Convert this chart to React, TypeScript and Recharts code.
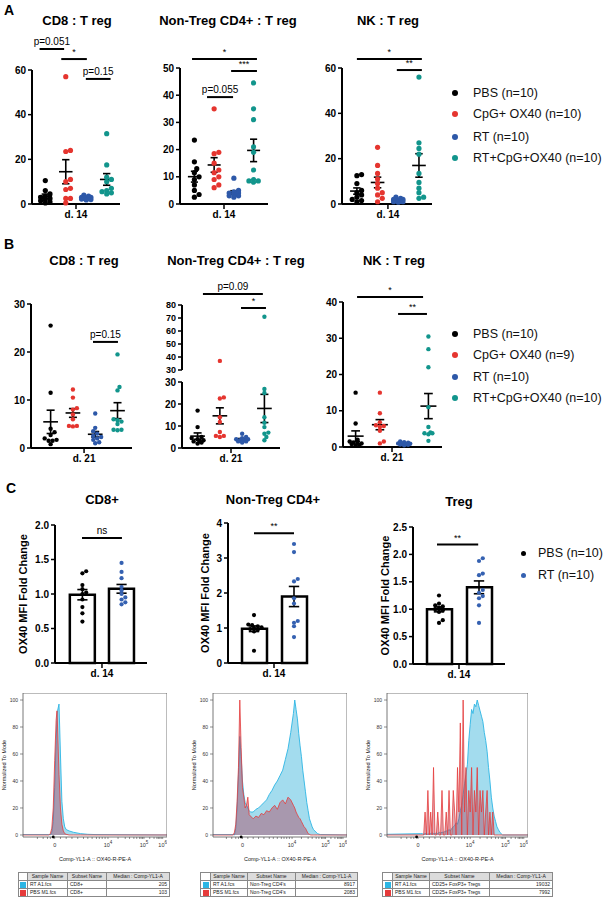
import React from 'react';
import {
  ScatterChart,
  ComposedChart,
  Scatter,
  Bar,
  Area,
  XAxis,
  YAxis,
  ReferenceLine,
  ReferenceArea,
  ReferenceDot,
} from 'recharts';

const FONT = '"Liberation Sans", Arial, Helvetica, sans-serif';

const groupColors = ['#000000', '#e5352f', '#2d58a8', '#12958c'];
const pairColors = ['#000000', '#3561b1'];
const legendA = ['PBS (n=10)', 'CpG+ OX40 (n=10)', 'RT (n=10)', 'RT+CpG+OX40 (n=10)'];
const legendB = ['PBS (n=10)', 'CpG+ OX40 (n=9)', 'RT (n=10)', 'RT+CpG+OX40 (n=10)'];
const legendC = ['PBS (n=10)', 'RT (n=10)'];

// A: ratios at d. 14  (PBS, CpG+OX40, RT, RT+CpG+OX40)
const aCd8 = [
  [10.5, 6, 4.5, 3.5, 3, 2.5, 2, 1.5, 1, 0.5],
  [57, 24, 23.5, 11, 10, 7, 6.5, 2.5, 2.5, 0.5],
  [4, 3.5, 3, 3, 2.8, 2.5, 2.5, 2.2, 2, 1.8],
  [31.5, 17.5, 12, 11, 10, 7, 6, 5.5, 5, 4.5],
];
const aCd4 = [
  [23.5, 15.5, 13, 11.5, 10, 9, 7, 5, 3.5, 2.5],
  [35, 19, 18.5, 15, 12.5, 11.5, 10, 9, 7, 6],
  [9.5, 5, 4.5, 4, 4, 3.5, 3.5, 3, 3, 2.5],
  [44.5, 35, 31, 21, 19, 12.5, 9, 8.5, 8.5, 8],
];
const aNk = [
  [13, 12.5, 9, 6, 5, 4, 3, 2, 1.5, 1],
  [25, 17, 13.5, 11, 9, 7, 5, 4, 2.5, 1],
  [3, 2.5, 2, 2, 1.5, 1.5, 1.2, 1, 1, 0.8],
  [56, 27, 24.5, 22, 13.5, 9.5, 7, 5, 3, 2.5],
];

// B: ratios at d. 21
const bCd8 = [
  [25.5, 11.5, 4, 3.3, 2.7, 2, 1.7, 1.5, 1.5, 0.8],
  [12.2, 10.5, 8.3, 8, 7, 6, 4.6, 4.6, 4.5],
  [7.2, 4.2, 3.5, 3, 2.5, 2.3, 2, 1.7, 1.2, 1],
  [19.5, 12.7, 12, 6, 5.8, 5.5, 5, 3.8, 3.8, 3.7],
];
const bCd4 = [
  [17, 9.5, 5, 4.5, 4, 3.5, 3, 3, 2.5, 2],
  [37, 23, 22.5, 14, 11.8, 7.3, 5.5, 5.5, 5],
  [6.5, 5, 4.5, 4, 4, 3.5, 3.5, 3, 3, 2.5],
  [71, 26.8, 25, 14, 11.5, 9.5, 7, 6.5, 5, 3.5],
];
const bNk = [
  [15, 6.5, 2, 1.5, 1.2, 1, 1, 0.8, 0.6, 0.4],
  [15, 9.3, 6.8, 6, 5.8, 5.5, 4.5, 1.5, 1],
  [1.5, 1.3, 1.2, 1, 1, 0.9, 0.8, 0.7, 0.6, 0.5],
  [30.5, 27, 22, 11, 5.5, 4, 3.8, 3.8, 3.5, 1.7],
];

// C: OX40 MFI fold change (PBS, RT)
const cCd8 = [
  [1.33, 1.3, 1.13, 1.07, 1.02, 1.0, 0.92, 0.81, 0.72, 0.6],
  [1.45, 1.32, 1.23, 1.1, 1.05, 1.0, 0.95, 0.92, 0.88, 0.85],
];
const cCd4 = [
  [1.37, 1.1, 1.08, 1.05, 1.02, 1.0, 0.97, 0.95, 0.9, 0.35],
  [3.4, 3.17, 2.4, 2.33, 1.85, 1.7, 1.2, 1.15, 1.05, 0.74],
];
const cTreg = [
  [1.25, 1.1, 1.07, 1.05, 1.02, 1.0, 0.98, 0.95, 0.8, 0.75],
  [1.93, 1.88, 1.65, 1.62, 1.35, 1.3, 1.24, 1.2, 1.07, 0.75],
];

// histograms: x on a 0-100 display scale, y = % of mode
const h1X = [0, 18, 19, 20, 21, 22, 23, 23.6, 24, 25, 26, 27, 28, 29, 30, 32, 35, 40, 45, 50, 100];
const h1Pbs = [0, 0, 1, 5, 20, 55, 85, 92, 80, 45, 20, 8, 3, 1, 0.5, 0, 0, 0, 0, 0, 0];
const h1Rt = [0.3, 0.3, 0, 2, 10, 35, 70, 85, 92, 97, 60, 25, 12, 6, 4, 3, 2, 1, 0.5, 0.3, 0];

const h2X = [0, 15, 16, 17, 18, 19, 20, 21, 22, 23, 24, 25, 26, 27, 28, 30, 32, 34, 36, 38, 40, 42, 44, 46, 48, 50,
  52, 54, 56, 58, 60, 61, 62, 63, 64, 65, 66, 67, 68, 69, 70, 71, 72, 73, 74, 75, 76, 78, 80, 100];
const h2Pbs = [0, 0, 2, 8, 25, 50, 100, 65, 35, 28, 20, 22, 28, 15, 14, 12, 14, 13, 16, 15, 18, 17, 20, 22, 19, 24,
  26, 23, 28, 26, 22, 20, 17, 15, 13, 12, 10, 8, 6, 5, 3, 1, 0.5, 0, 0, 0, 0, 0, 0, 0];
const h2Rt = [0.3, 0.3, 0, 5, 20, 45, 73, 58, 40, 30, 24, 22, 20, 18, 17, 17, 19, 20, 22, 24, 26, 30, 33, 37, 40, 44,
  48, 56, 64, 76, 90, 100, 93, 86, 75, 66, 58, 48, 40, 32, 24, 18, 12, 9, 6, 4, 3, 1, 0.3, 0];

const h3X = [0, 24, 25, 26, 27, 28, 29, 30, 31, 32, 33, 34, 35, 36, 37, 38, 39, 40, 41, 42, 43, 44, 45, 46, 47, 48,
  49, 50, 51, 52, 53, 54, 55, 56, 57, 58, 59, 60, 61, 62, 63, 64, 65, 66, 67, 68, 69, 70, 71, 72, 73, 74, 75, 76,
  77, 78, 79, 80, 81, 82, 100];
const h3Pbs = [0, 0, 0, 0, 17, 0, 33, 0, 17, 0, 50, 0, 0, 17, 0, 0, 33, 0, 0, 17, 0, 33, 0, 0, 33, 17,
  0, 50, 17, 83, 0, 100, 17, 50, 0, 33, 17, 50, 0, 33, 17, 50, 0, 33, 17, 33, 0, 17, 33, 0, 17, 0, 17, 0,
  0, 0, 0, 0, 0, 0, 0];
const h3Rt = [0.5, 1, 1, 0.5, 1, 1, 0.5, 1, 1, 1.5, 1, 1, 1.5, 1, 2, 1.5, 2, 2, 2.5, 3, 3, 4, 3, 5, 6, 7,
  9, 8, 12, 18, 22, 30, 38, 45, 52, 70, 82, 93, 90, 97, 95, 100, 96, 92, 88, 84, 76, 70, 62, 50, 40, 28, 20, 14,
  10, 6, 4, 2, 1, 0, 0];

const histMajor = [22, 59, 84, 97];
const histMajorExp = ['', '4', '5', '6'];
const histMinor = [10, 14, 17, 19, 26, 30, 34, 38, 42, 45, 48, 51, 53, 55, 57, 66, 71, 74, 77, 79, 81, 82, 83,
  88, 91, 93, 94, 95, 96];

const sampleNames = ['RT A1.fcs', 'PBS M1.fcs'];
const subsetNames = ['CD8+', "Non-Treg CD4's", 'CD25+ FoxP3+ Tregs'];
const medians = [[205, 103], [8917, 2083], [19032, 7992]];

const mean = (v: number[]) => v.reduce((a, b) => a + b, 0) / v.length;
const sem = (v: number[]) => {
  const m = mean(v);
  const sd = Math.sqrt(v.reduce((a, b) => a + (b - m) ** 2, 0) / (v.length - 1));
  return sd / Math.sqrt(v.length);
};

// beeswarm-ish horizontal spread, returns offsets in x units
function swarm(vals: number[], pxY: number, pxX: number, r: number, maxPx: number) {
  const order = vals.map((_, i) => i).sort((a, b) => vals[a] - vals[b]);
  const placed: { x: number; y: number }[] = [];
  const out = vals.map(() => 0);
  const minD = r * 1.6;
  const step = r * 0.9;
  for (const i of order) {
    const y = vals[i] * pxY;
    let best = 0;
    let bestD = -1;
    for (let k = 0; k < 40; k++) {
      const off = k === 0 ? 0 : (k % 2 ? 1 : -1) * Math.ceil(k / 2) * step;
      if (Math.abs(off) > maxPx) break;
      const d = placed.reduce((m, p) => Math.min(m, Math.hypot(p.x - off, p.y - y)), Infinity);
      if (d >= minD) {
        best = off;
        break;
      }
      if (d > bestD) {
        bestD = d;
        best = off;
      }
    }
    placed.push({ x: best, y });
    out[i] = best / pxX;
  }
  return out;
}

type Sig = { x1: number; x2: number; y: number; text: string };

const axisLine = { stroke: '#000', strokeWidth: 2 };
const tickLine = { stroke: '#000', strokeWidth: 1.5 };
const tickFont = { fill: '#000', fontSize: 10, fontWeight: 700, fontFamily: FONT };
const YW = 30;
const TOPM = 50;
const XH = 22;
const RM = 4;

const sigLines = (sigs: Sig[]) =>
  sigs.map((s, i) => (
    <ReferenceLine
      key={'sig' + i}
      segment={[{ x: s.x1, y: s.y }, { x: s.x2, y: s.y }]}
      stroke="#000"
      strokeWidth={2}
      ifOverflow="visible"
      label={{
        value: s.text,
        position: 'top',
        offset: 4,
        fill: '#000',
        fontSize: s.text.startsWith('p') || s.text === 'ns' ? 10 : 9,
        fontFamily: FONT,
      }}
    />
  ));

function DotPanel({
  groups, colors = groupColors, axisLeft, axisRight, yTop, yBot, xDomain, yDomain, yTicks,
  tickText = 'd. 14', hideX = false, sigs = [], r = 2.6, stats = true, keep, swarmPx, tickFs = 10,
}: any) {
  const pxY = (yBot - yTop) / (yDomain[1] - yDomain[0]);
  const pxX = (axisRight - axisLeft) / (xDomain[1] - xDomain[0]);
  const bottomPad = hideX ? 7 : 0;
  const w = YW + axisRight - axisLeft + RM;
  const h = TOPM + yBot - yTop + (hideX ? 0 : XH) + bottomPad;
  return (
    <div style={{ position: 'absolute', left: axisLeft - YW, top: yTop - TOPM }}>
      <ScatterChart width={w} height={h} margin={{ top: TOPM, right: RM, bottom: bottomPad, left: 0 }}>
        <XAxis type="number" dataKey="x" domain={xDomain} ticks={[2.5]} tickFormatter={() => tickText}
          hide={hideX} height={XH} axisLine={axisLine} tickLine={tickLine} tickSize={5} tick={tickFont} interval={0} />
        <YAxis type="number" dataKey="y" domain={yDomain} ticks={yTicks} interval={0} width={YW}
          axisLine={axisLine} tickLine={tickLine} tickSize={4} tick={{ ...tickFont, fontSize: tickFs }} />
        {groups.map((vals: number[], gi: number) => {
          const jit = swarm(vals, swarmPx ?? pxY, pxX, r, 7);
          const pts = vals
            .map((v, i) => ({ x: gi + 1 + jit[i], y: v }))
            .filter((p) => !keep || keep(p.y));
          return (
            <Scatter key={gi} data={pts} isAnimationActive={false}
              shape={(s: any) => <circle cx={s.cx} cy={s.cy} r={r} fill={colors[gi]} />} />
          );
        })}
        {stats &&
          groups.map((vals: number[], gi: number) => {
            const m = mean(vals);
            const s = sem(vals);
            const g = gi + 1;
            const seg = (x1: number, y1: number, x2: number, y2: number, k: string) => (
              <ReferenceLine key={k + gi} segment={[{ x: x1, y: y1 }, { x: x2, y: y2 }]}
                stroke="#000" strokeWidth={1.6} ifOverflow="visible" />
            );
            return [
              seg(g - 0.33, m, g + 0.33, m, 'm'),
              seg(g, m - s, g, m + s, 'v'),
              seg(g - 0.18, m + s, g + 0.18, m + s, 't'),
              seg(g - 0.18, m - s, g + 0.18, m - s, 'b'),
            ];
          })}
        {sigLines(sigs)}
      </ScatterChart>
    </div>
  );
}

function BarPanel({ groups, axisLeft, axisRight, yTop, yBot, xDomain, yDomain, yTicks, sigs, labelDist, fixed }: any) {
  const CYW = 45;
  const pxY = (yBot - yTop) / (yDomain[1] - yDomain[0]);
  const pxX = (axisRight - axisLeft) / (xDomain[1] - xDomain[0]);
  const w = CYW + axisRight - axisLeft + RM;
  const h = TOPM + yBot - yTop + XH;
  const bars = groups.map((v: number[], i: number) => ({ x: i + 1, y: mean(v) }));
  return (
    <div style={{ position: 'absolute', left: axisLeft - CYW, top: yTop - TOPM }}>
      <ComposedChart width={w} height={h} data={bars} margin={{ top: TOPM, right: RM, bottom: 0, left: 0 }}>
        <XAxis type="number" dataKey="x" domain={xDomain} ticks={[1.5]} tickFormatter={() => 'd. 14'}
          height={XH} axisLine={axisLine} tickLine={tickLine} tickSize={5} tick={tickFont} interval={0} />
        <XAxis xAxisId="bars" type="number" dataKey="x" domain={xDomain} hide />
        <YAxis type="number" dataKey="y" domain={yDomain} ticks={yTicks} interval={0} width={CYW}
          axisLine={axisLine} tickLine={tickLine} tickSize={4} tick={tickFont}
          tickFormatter={(v: number) => (fixed ? v.toFixed(1) : String(v))}
          label={{
            value: 'OX40 MFI Fold Change', angle: -90, position: 'insideLeft', offset: CYW - labelDist,
            style: { textAnchor: 'middle' }, fill: '#000', fontSize: 11, fontWeight: 700, fontFamily: FONT,
          }} />
        <Bar xAxisId="bars" dataKey="y" barSize={25} fill="#fff" stroke="#000" strokeWidth={2.5}
          isAnimationActive={false} />
        {groups.map((vals: number[], gi: number) => {
          const jit = swarm(vals, pxY, pxX, 2.1, 9);
          const pts = vals.map((v, i) => ({ x: gi + 1 + jit[i], y: v }));
          return (
            <Scatter key={gi} data={pts} isAnimationActive={false}
              shape={(s: any) => <circle cx={s.cx} cy={s.cy} r={2.1} fill={pairColors[gi]} />} />
          );
        })}
        {groups.map((vals: number[], gi: number) => {
          const m = mean(vals);
          const s = sem(vals);
          const g = gi + 1;
          const seg = (x1: number, y1: number, x2: number, y2: number, k: string) => (
            <ReferenceLine key={k + gi} segment={[{ x: x1, y: y1 }, { x: x2, y: y2 }]}
              stroke="#000" strokeWidth={1.6} ifOverflow="visible" />
          );
          return [
            seg(g, m - s, g, m + s, 'v'),
            seg(g - 0.13, m + s, g + 0.13, m + s, 't'),
            seg(g - 0.13, m - s, g + 0.13, m - s, 'b'),
          ];
        })}
        {sigLines(sigs)}
      </ComposedChart>
    </div>
  );
}

const HistTick = (props: any) => {
  const { x, y, payload } = props;
  const idx = histMajor.indexOf(payload.value);
  if (idx < 0) return null;
  const exp = histMajorExp[idx];
  return (
    <text x={x} y={y + 6} textAnchor="middle" fontSize={5.5} fill="#333" fontFamily={FONT}>
      {exp ? '10' : '0'}
      {exp && (
        <tspan dy={-3} fontSize={4.5}>
          {exp}
        </tspan>
      )}
    </text>
  );
};

function Histo({ left, top, width, height, xs, rt, pbs }: any) {
  const HYW = 22;
  const HXH = 27;
  const data = xs.map((x: number, i: number) => ({ x, rt: rt[i], pbs: pbs[i] }));
  const yDom = [-1.5, 105.2];
  return (
    <div style={{ position: 'absolute', left: left - HYW, top }}>
      <ComposedChart width={HYW + width} height={height + HXH} data={data}
        margin={{ top: 0, right: 0, bottom: 0, left: 0 }}>
        <XAxis type="number" dataKey="x" domain={[0, 100]} ticks={[...histMajor, ...histMinor]} interval={0}
          tick={<HistTick />} tickSize={2} axisLine={false} tickLine={{ stroke: '#444', strokeWidth: 0.6 }}
          height={HXH}
          label={{ value: 'Comp-YL1-A :: OX40-R-PE-A', position: 'insideBottom', offset: 3, fontSize: 5.5,
            fill: '#222', fontFamily: FONT }} />
        <YAxis type="number" domain={yDom} ticks={[0, 20, 40, 60, 80, 100]} interval={0} width={HYW}
          axisLine={false} tickLine={{ stroke: '#444', strokeWidth: 0.6 }} tickSize={3}
          tick={{ fill: '#333', fontSize: 5, fontFamily: FONT }}
          label={{ value: 'Normalized To Mode', angle: -90, position: 'insideLeft', offset: 3,
            style: { textAnchor: 'middle' }, fontSize: 5.5, fill: '#222', fontFamily: FONT }} />
        <Area type="linear" dataKey="rt" stroke="#2cb6e4" strokeWidth={0.9} fill="#a3dcee" fillOpacity={1}
          isAnimationActive={false} />
        <Area type="linear" dataKey="pbs" stroke="#e63b3b" strokeWidth={0.8} fill="#b03a55" fillOpacity={0.42}
          isAnimationActive={false} />
        <ReferenceArea x1={0} x2={100} y1={yDom[0]} y2={yDom[1]} fill="none" fillOpacity={0} stroke="#555"
          strokeWidth={0.8} ifOverflow="visible" />
        <ReferenceDot x={21} y={-1.5} r={1.4} fill="#000" stroke="none" ifOverflow="visible" />
      </ComposedChart>
    </div>
  );
}

function FcsTable({ left, widths, idx }: { left: number; widths: number[]; idx: number }) {
  const cell: React.CSSProperties = {
    border: '0.6px solid #888', padding: '0 2px', height: 7, lineHeight: '7px', fontSize: 5,
    whiteSpace: 'nowrap', overflow: 'hidden', color: '#222',
  };
  const head: React.CSSProperties = { ...cell, background: '#dcdcdc', textAlign: 'center' };
  const sw = ['#2cb6e4', '#e63b3b'];
  return (
    <table style={{ position: 'absolute', left, top: 872, borderCollapse: 'collapse', tableLayout: 'fixed',
      fontFamily: FONT, width: widths.reduce((a, b) => a + b, 0) }}>
      <colgroup>
        {widths.map((w, i) => <col key={i} style={{ width: w }} />)}
      </colgroup>
      <tbody>
        <tr>
          <td style={{ ...cell }} />
          <td style={head}>Sample Name</td>
          <td style={head}>Subset Name</td>
          <td style={head}>Median : Comp-YL1-A</td>
        </tr>
        {sampleNames.map((s, r) => (
          <tr key={s}>
            <td style={{ ...cell, padding: 0 }}>
              <div style={{ width: 6, height: 6, background: sw[r], margin: '0 auto' }} />
            </td>
            <td style={cell}>{s}</td>
            <td style={cell}>{subsetNames[idx]}</td>
            <td style={{ ...cell, textAlign: 'right' }}>{medians[idx][r]}</td>
          </tr>
        ))}
      </tbody>
    </table>
  );
}

function Title({ x, y, size = 13, children }: any) {
  return (
    <div style={{ position: 'absolute', left: x - 150, width: 300, top: y - size * 0.6, textAlign: 'center',
      fontSize: size, lineHeight: `${size * 1.2}px`, fontWeight: 700, fontFamily: FONT, color: '#000' }}>
      {children}
    </div>
  );
}

function Legend({ items, colors, ys, dotX, textX, r = 3 }: any) {
  return (
    <>
      {items.map((t: string, i: number) => (
        <div key={t} style={{ position: 'absolute', left: dotX - r, top: ys[i] - 9, height: 18, display: 'flex',
          alignItems: 'center', fontFamily: FONT, fontSize: 12.5, color: '#111' }}>
          <span style={{ width: r * 2, height: r * 2, borderRadius: '50%', background: colors[i], display: 'inline-block' }} />
          <span style={{ marginLeft: textX - dotX - r }}>{t}</span>
        </div>
      ))}
    </>
  );
}

const letter = (t: string, x: number, y: number) => (
  <div style={{ position: 'absolute', left: x, top: y, fontSize: 14, fontWeight: 700, fontFamily: FONT }}>{t}</div>
);

export default function App() {
  return (
    <div style={{ position: 'relative', width: 604, height: 897, background: '#fff', overflow: 'hidden', fontFamily: FONT }}>
      <style>{'body{margin:0}'}</style>
      {letter('A', 4, 2)}
      {letter('B', 4, 236)}
      {letter('C', 6, 480)}

      <Title x={77} y={21}>CD8 : T reg</Title>
      <Title x={228} y={21}>Non-Treg CD4+ : T reg</Title>
      <Title x={388} y={21}>NK : T reg</Title>

      <DotPanel groups={aCd8} axisLeft={32} axisRight={120} yTop={70} yBot={204} xDomain={[0.35, 4.65]}
        yDomain={[0, 60]} yTicks={[0, 20, 40, 60]}
        sigs={[{ x1: 0.72, x2: 1.92, y: 69.4, text: 'p=0.051' }, { x1: 1.78, x2: 3.03, y: 64.9, text: '*' },
          { x1: 2.98, x2: 4.19, y: 56, text: 'p=0.15' }]} />
      <DotPanel groups={aCd4} axisLeft={180} axisRight={268} yTop={68} yBot={204} xDomain={[0.27, 4.73]}
        yDomain={[0, 50]} yTicks={[0, 10, 20, 30, 40, 50]}
        sigs={[{ x1: 0.88, x2: 4.17, y: 53.3, text: '*' }, { x1: 2.86, x2: 4.17, y: 48.9, text: '***' },
          { x1: 1.64, x2: 2.96, y: 39.3, text: 'p=0.055' }]} />
      <DotPanel groups={aNk} axisLeft={342} axisRight={432} yTop={68} yBot={204} xDomain={[0.28, 4.63]}
        yDomain={[0, 60]} yTicks={[0, 20, 40, 60]}
        sigs={[{ x1: 1.0, x2: 4.14, y: 64, text: '*' }, { x1: 2.93, x2: 4.14, y: 59.1, text: '**' }]} />
      <Legend items={legendA} colors={groupColors} ys={[93, 114, 137, 158]} dotX={455} textX={473} />

      <Title x={84} y={261}>CD8 : T reg</Title>
      <Title x={236} y={261}>Non-Treg CD4+ : T reg</Title>
      <Title x={394} y={261}>NK : T reg</Title>

      <DotPanel groups={bCd8} axisLeft={31} axisRight={132} yTop={304} yBot={448} xDomain={[0.12, 4.65]}
        yDomain={[0, 30]} yTicks={[0, 10, 20, 30]} tickText="d. 21" r={2.2}
        sigs={[{ x1: 2.9, x2: 4.02, y: 22.1, text: 'p=0.15' }]} />
      <DotPanel groups={bCd4} axisLeft={182} axisRight={280} yTop={305} yBot={370} xDomain={[0.3, 4.7]}
        yDomain={[30, 80]} yTicks={[30, 40, 50, 60, 70, 80]} hideX stats={false} r={2.2} swarmPx={2.2}
        keep={(v: number) => v >= 30} tickFs={9}
        sigs={[{ x1: 1.24, x2: 3.93, y: 88.5, text: 'p=0.09' }, { x1: 2.95, x2: 4.07, y: 77.7, text: '*' }]} />
      <DotPanel groups={bCd4} axisLeft={182} axisRight={280} yTop={382} yBot={448} xDomain={[0.3, 4.7]}
        yDomain={[0, 30]} yTicks={[0, 10, 20, 30]} tickText="d. 21" r={2.2} keep={(v: number) => v < 30} />
      <DotPanel groups={bNk} axisLeft={343} axisRight={442} yTop={302} yBot={447} xDomain={[0.48, 4.56]}
        yDomain={[0, 40]} yTicks={[0, 10, 20, 30, 40]} tickText="d. 21" r={2.2}
        sigs={[{ x1: 1.06, x2: 3.78, y: 41.4, text: '*' }, { x1: 2.75, x2: 3.94, y: 36.7, text: '**' }]} />
      <Legend items={legendB} colors={groupColors} ys={[334, 355, 377, 398]} dotX={455} textX={473} />

      <Title x={102} y={500}>CD8+</Title>
      <Title x={273} y={500}>Non-Treg CD4+</Title>
      <Title x={459} y={502}>Treg</Title>

      <BarPanel groups={cCd8} axisLeft={55} axisRight={147} yTop={525} yBot={663} xDomain={[0.3, 2.65]}
        yDomain={[0, 2]} yTicks={[0, 0.5, 1, 1.5, 2]} fixed labelDist={32}
        sigs={[{ x1: 0.99, x2: 2.01, y: 1.81, text: 'ns' }]} />
      <BarPanel groups={cCd4} axisLeft={228} axisRight={308} yTop={523} yBot={663} xDomain={[0.35, 2.35]}
        yDomain={[0, 4]} yTicks={[0, 1, 2, 3, 4]} labelDist={23}
        sigs={[{ x1: 1.0, x2: 2.0, y: 3.71, text: '**' }]} />
      <BarPanel groups={cTreg} axisLeft={413} axisRight={505} yTop={527} yBot={664} xDomain={[0.35, 2.65]}
        yDomain={[0, 2.5]} yTicks={[0, 0.5, 1, 1.5, 2, 2.5]} fixed labelDist={28}
        sigs={[{ x1: 0.95, x2: 1.98, y: 2.18, text: '**' }]} />
      <Legend items={legendC} colors={pairColors} ys={[553, 575]} dotX={523} textX={538} r={2.5} />

      <Histo left={23} top={693} width={144} height={144} xs={h1X} rt={h1Rt} pbs={h1Pbs} />
      <Histo left={213} top={693} width={134} height={144} xs={h2X} rt={h2Rt} pbs={h2Pbs} />
      <Histo left={387} top={693} width={141} height={144} xs={h3X} rt={h3Rt} pbs={h3Pbs} />

      <FcsTable left={18} widths={[9, 40, 39, 63]} idx={0} />
      <FcsTable left={200} widths={[10, 37, 48, 62]} idx={1} />
      <FcsTable left={382} widths={[10, 37, 60, 63]} idx={2} />
    </div>
  );
}
